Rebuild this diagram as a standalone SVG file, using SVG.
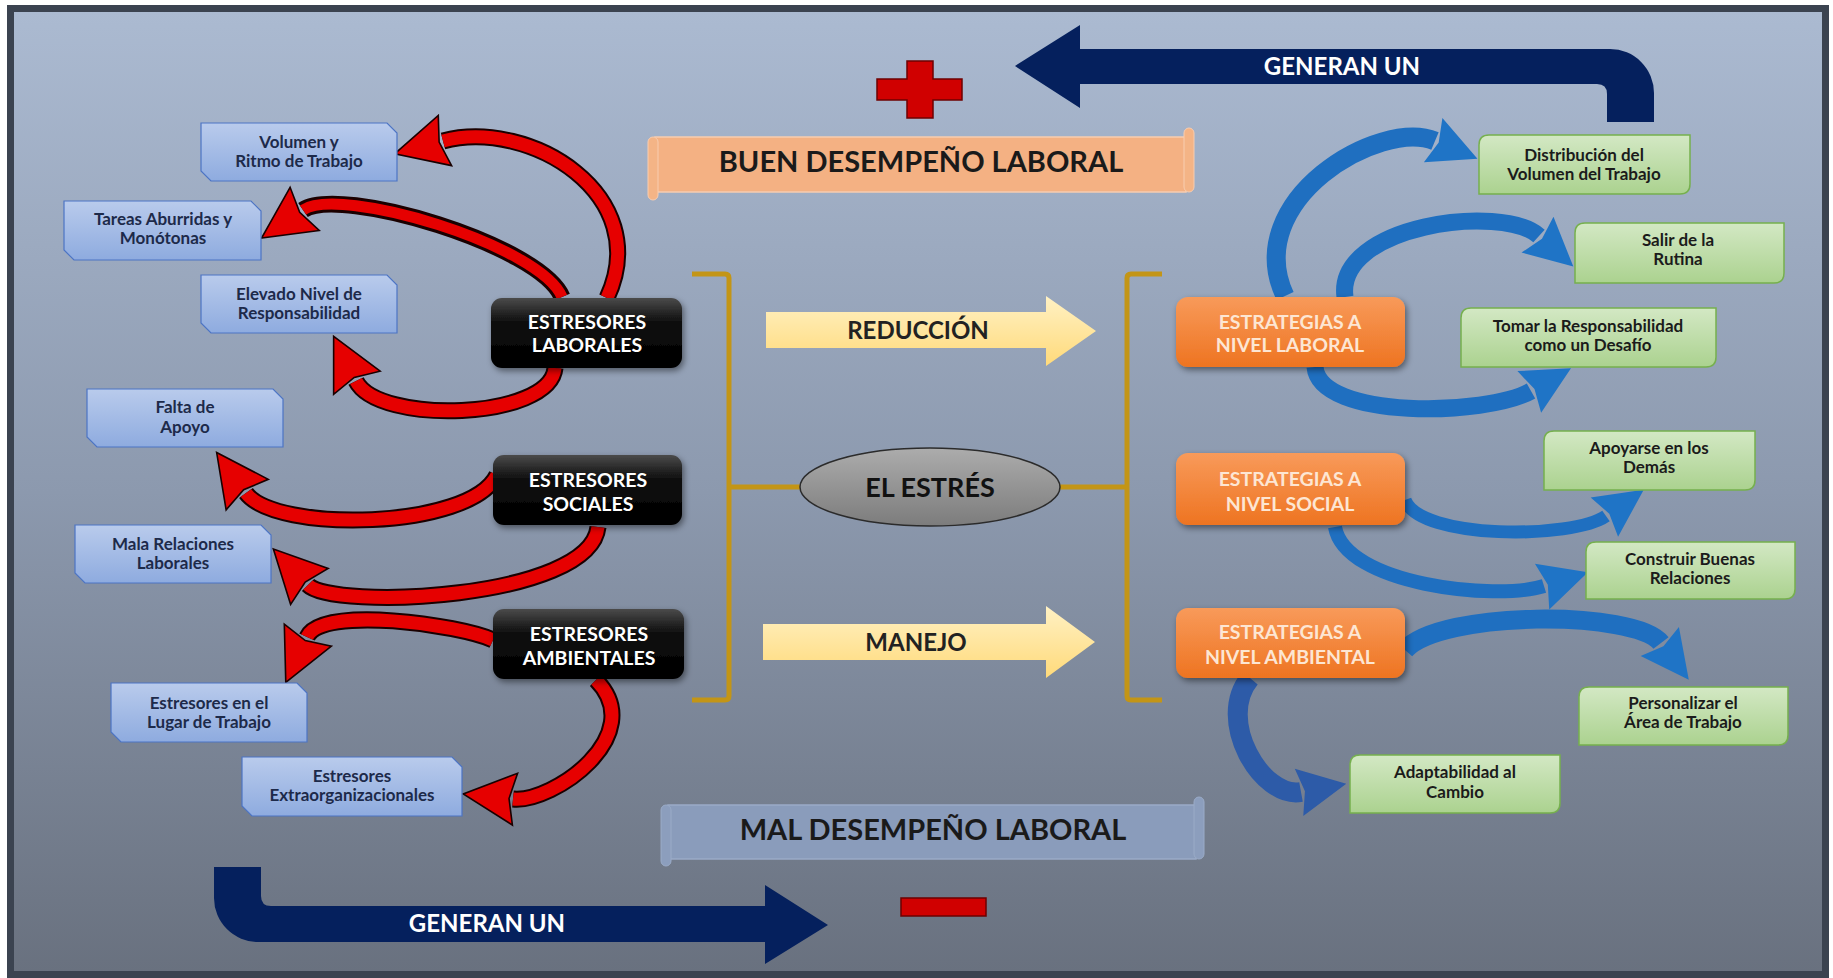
<svg xmlns="http://www.w3.org/2000/svg" width="1833" height="978" viewBox="0 0 1833 978">
  <defs>
    <linearGradient id="bg" x1="0" y1="0" x2="0" y2="1">
      <stop offset="0" stop-color="#abbad1"/>
      <stop offset="0.5" stop-color="#8c99ae"/>
      <stop offset="1" stop-color="#69717f"/>
    </linearGradient>
    <linearGradient id="gBlue" x1="0" y1="0" x2="0" y2="1">
      <stop offset="0" stop-color="#b9cbec"/>
      <stop offset="1" stop-color="#8eabdf"/>
    </linearGradient>
    <linearGradient id="gGreen" x1="0" y1="0" x2="0" y2="1">
      <stop offset="0" stop-color="#d3e8c4"/>
      <stop offset="1" stop-color="#abd28f"/>
    </linearGradient>
    <linearGradient id="gBlack" x1="0" y1="0" x2="0" y2="1">
      <stop offset="0" stop-color="#4a4a4a"/>
      <stop offset="0.35" stop-color="#0d0d0d"/>
      <stop offset="1" stop-color="#000000"/>
    </linearGradient>
    <linearGradient id="gOrange" x1="0" y1="0" x2="0" y2="1">
      <stop offset="0" stop-color="#f89a5a"/>
      <stop offset="1" stop-color="#ee7421"/>
    </linearGradient>
    <linearGradient id="gYellow" x1="0" y1="0" x2="0" y2="1">
      <stop offset="0" stop-color="#fff1c4"/>
      <stop offset="1" stop-color="#ffda7a"/>
    </linearGradient>
    <linearGradient id="gGray" x1="0" y1="0" x2="0" y2="1">
      <stop offset="0" stop-color="#acacac"/>
      <stop offset="1" stop-color="#7c7c7c"/>
    </linearGradient>
    <filter id="shadow" x="-10%" y="-10%" width="130%" height="140%">
      <feDropShadow dx="2" dy="3" stdDeviation="3" flood-color="#000" flood-opacity="0.45"/>
    </filter>
    <marker id="redHead" markerUnits="userSpaceOnUse" orient="auto" refX="0" refY="0" markerWidth="60" markerHeight="70" viewBox="-4 -35 60 70" overflow="visible">
      <path d="M-2,-26 L50,0 L-2,26 L4,0 Z" fill="#e60000" stroke="#1a0000" stroke-width="1.6" stroke-linejoin="miter"/>
    </marker>
    <marker id="blueHead" markerUnits="userSpaceOnUse" orient="auto" refX="0" refY="0" markerWidth="60" markerHeight="70" viewBox="-4 -35 60 70" overflow="visible">
      <path d="M-2,-24 L46,0 L-2,24 L4,0 Z" fill="#1f74c6"/>
    </marker>
    <marker id="blueHeadDark" markerUnits="userSpaceOnUse" orient="auto" refX="0" refY="0" markerWidth="60" markerHeight="70" viewBox="-4 -35 60 70" overflow="visible">
      <path d="M-2,-24 L46,0 L-2,24 L4,0 Z" fill="#2d5ba8"/>
    </marker>
    <style>
      text { font-family: "Lato", "Liberation Sans", sans-serif; font-weight: bold; text-anchor: middle; }
      .snip { fill: url(#gBlue); stroke: #4c74c4; stroke-width: 1.2; }
      .snipTxt { font-size: 17px; fill: #1d2a4a; }
      .leaf { fill: url(#gGreen); stroke: #76b04e; stroke-width: 1.5; }
      .leafTxt { font-size: 17px; fill: #1b1b1b; }
      .dark { fill: url(#gBlack); filter: url(#shadow); }
      .darkTxt { font-size: 19.5px; fill: #ffffff; }
      .orange { fill: url(#gOrange); filter: url(#shadow); }
      .orangeTxt { font-size: 19.5px; fill: #fde6d3; }
      .redOut { fill: none; stroke: #1a0000; stroke-width: 17; }
      .red { fill: none; stroke: #e60000; stroke-width: 13; marker-end: url(#redHead); }
      .blue { fill: none; stroke: #1f6fc0; stroke-width: 17; marker-end: url(#blueHead); }
      .blueDark { fill: none; stroke: #2d5ba8; stroke-width: 20; marker-end: url(#blueHeadDark); }
      .bracket { fill: none; stroke: #c39516; stroke-width: 5; stroke-linejoin: round; }
      .navy { fill: #05205d; }
      .navyTxt { font-size: 24px; fill: #ffffff; }
      .yellow { fill: url(#gYellow); }
      .yellowTxt { font-size: 24px; fill: #222222; }
      .sign { fill: #d00000; stroke: #6e0000; stroke-width: 1.5; }
      .banner { font-size: 29px; fill: #1a1a1a; }
    </style>
  </defs>

  <!-- frame and backdrop -->
  <rect x="0" y="0" width="1833" height="978" fill="#ffffff"/>
  <rect x="7" y="5" width="1822" height="973" fill="#3b4350"/>
  <rect x="14" y="12" width="1808" height="959" fill="url(#bg)"/>

  <!-- connectors: curved arrows, brackets, block arrows -->
  <g id="connectors">
    <!-- stressors: red curved arrows -->
    <path class="redOut" d="M607 298 C655 195, 530 118, 443 141"/>
    <path class="red" d="M607 298 C655 195, 530 118, 443 141"/>
    <path class="redOut" d="M562 297 C540 245, 340 185, 303 210"/>
    <path class="red" style="stroke-width:11" d="M562 297 C540 245, 340 185, 303 210"/>
    <path class="redOut" d="M555 368 C550 420, 378 425, 356 381"/>
    <path class="red" d="M555 368 C550 420, 378 425, 356 381"/>
    <path class="redOut" d="M497 475 C470 530, 275 533, 246 493"/>
    <path class="red" d="M497 475 C470 530, 275 533, 246 493"/>
    <path class="redOut" d="M598 527 C590 600, 332 610, 308 585"/>
    <path class="red" d="M598 527 C590 600, 332 610, 308 585"/>
    <path class="redOut" d="M493 640 C460 625, 322 605, 307 637"/>
    <path class="red" d="M493 640 C460 625, 322 605, 307 637"/>
    <path class="redOut" d="M596 680 C650 735, 553 803, 513 799"/>
    <path class="red" d="M596 680 C650 735, 553 803, 513 799"/>

    <!-- strategies: blue curved arrows -->
    <path class="blue" style="stroke-width:19" d="M1285 296 C1240 200, 1380 118, 1435 141"/>
    <path class="blue" d="M1345 297 C1335 225, 1502 203, 1539 236"/>
    <path class="blue" d="M1315 367 C1320 420, 1487 416, 1531 391"/>
    <path class="blue" style="stroke-width:13" d="M1405 500 C1420 540, 1573 539, 1606 516"/>
    <path class="blue" style="stroke-width:14" d="M1335 527 C1345 585, 1496 601, 1544 586"/>
    <path class="blue" style="stroke-width:19" d="M1405 650 C1440 610, 1636 610, 1661 643"/>
    <path class="blueDark" d="M1250 678 C1215 720, 1262 799, 1301 792"/>

    <!-- brackets around the central topic -->
    <path class="bracket" d="M692 274 H725 Q729 274 729 278 V696 Q729 700 725 700 H692"/>
    <path class="bracket" d="M729 487 H800"/>
    <path class="bracket" d="M1162 274 H1131 Q1127 274 1127 278 V696 Q1127 700 1131 700 H1162"/>
    <path class="bracket" d="M1060 487 H1127"/>

    <!-- block arrows -->
    <path class="yellow" d="M766 312 H1046 V296 L1096 331 L1046 366 V348 H766 Z"/>
    <text class="yellowTxt" x="918" y="339">REDUCCIÓN</text>
    <path class="yellow" d="M763 624 H1046 V606 L1095 642 L1046 678 V660 H763 Z"/>
    <text class="yellowTxt" x="916" y="651">MANEJO</text>

    <path class="navy" d="M1607 122 V94 Q1607 84 1597 84 H1080 V108 L1015 66 L1080 25 V49 H1610 A44 44 0 0 1 1654 93 V122 Z"/>
    <text class="navyTxt" x="1342" y="75">GENERAN UN</text>
    <path class="navy" d="M214 867 H261 V896 Q261 906 271 906 H765 V885 L828 925 L765 964 V942 H258 A44 44 0 0 1 214 898 Z"/>
    <text class="navyTxt" x="487" y="932">GENERAN UN</text>
  </g>

  <!-- plus and minus signs -->
  <g id="plus">
    <path class="sign" d="M907 61 H933 V79 H962 V100 H933 V118 H907 V100 H877 V79 H907 Z"/>
  </g>
  <g id="minus">
    <rect class="sign" x="901" y="898" width="85" height="18"/>
  </g>

  <!-- performance banners -->
  <g id="buen-desempeno">
    <rect x="655" y="137" width="531" height="55" fill="#f4b183" stroke="#f8cdb0" stroke-width="1.5"/>
    <rect x="648" y="137" width="10" height="63" rx="5" fill="#f4b486" stroke="#f8cdb0" stroke-width="1"/>
    <rect x="1184" y="128" width="10" height="64" rx="5" fill="#f4b486" stroke="#f8cdb0" stroke-width="1"/>
    <text class="banner" x="921" y="172">BUEN DESEMPEÑO LABORAL</text>
  </g>
  <g id="mal-desempeno">
    <rect x="668" y="805" width="528" height="54" fill="#8a9cbb" stroke="#9aabc7" stroke-width="1.5"/>
    <rect x="661" y="805" width="10" height="61" rx="5" fill="#8c9ebd" stroke="#9aabc7" stroke-width="1"/>
    <rect x="1194" y="797" width="10" height="62" rx="5" fill="#8c9ebd" stroke="#9aabc7" stroke-width="1"/>
    <text class="banner" x="933" y="840">MAL DESEMPEÑO LABORAL</text>
  </g>

  <!-- central topic -->
  <g id="el-estres">
    <ellipse cx="930" cy="487" rx="130" ry="39" fill="url(#gGray)" stroke="#2b2b2b" stroke-width="1.5"/>
    <text x="930" y="497" style="font-size:27px;fill:#111">EL ESTRÉS</text>
  </g>

  <!-- stressor categories -->
  <g id="estresores-laborales">
    <rect class="dark" x="491" y="298" width="191" height="70" rx="11"/>
    <text class="darkTxt" x="587" y="329">ESTRESORES</text>
    <text class="darkTxt" x="587" y="352">LABORALES</text>
  </g>
  <g id="estresores-sociales">
    <rect class="dark" x="493" y="455" width="189" height="70" rx="11"/>
    <text class="darkTxt" x="588" y="487">ESTRESORES</text>
    <text class="darkTxt" x="588" y="511">SOCIALES</text>
  </g>
  <g id="estresores-ambientales">
    <rect class="dark" x="493" y="609" width="191" height="70" rx="11"/>
    <text class="darkTxt" x="589" y="641">ESTRESORES</text>
    <text class="darkTxt" x="589" y="665">AMBIENTALES</text>
  </g>

  <!-- stressor details -->
  <g id="volumen-ritmo">
    <path class="snip" d="M201 123 H387 L397 133 V181 H211 L201 171 Z"/>
    <text class="snipTxt" x="299" y="148">Volumen y</text>
    <text class="snipTxt" x="299" y="167">Ritmo de Trabajo</text>
  </g>
  <g id="tareas-aburridas">
    <path class="snip" d="M64 201 H251 L261 211 V260 H74 L64 250 Z"/>
    <text class="snipTxt" x="163" y="225">Tareas Aburridas y</text>
    <text class="snipTxt" x="163" y="244">Monótonas</text>
  </g>
  <g id="elevado-nivel">
    <path class="snip" d="M201 275 H387 L397 285 V333 H211 L201 323 Z"/>
    <text class="snipTxt" x="299" y="300">Elevado Nivel de</text>
    <text class="snipTxt" x="299" y="319">Responsabilidad</text>
  </g>
  <g id="falta-apoyo">
    <path class="snip" d="M87 389 H273 L283 399 V447 H97 L87 437 Z"/>
    <text class="snipTxt" x="185" y="413">Falta de</text>
    <text class="snipTxt" x="185" y="433">Apoyo</text>
  </g>
  <g id="mala-relaciones">
    <path class="snip" d="M75 525 H261 L271 535 V583 H85 L75 573 Z"/>
    <text class="snipTxt" x="173" y="550">Mala Relaciones</text>
    <text class="snipTxt" x="173" y="569">Laborales</text>
  </g>
  <g id="lugar-trabajo">
    <path class="snip" d="M111 683 H297 L307 693 V742 H121 L111 732 Z"/>
    <text class="snipTxt" x="209" y="709">Estresores en el</text>
    <text class="snipTxt" x="209" y="728">Lugar de Trabajo</text>
  </g>
  <g id="extraorganizacionales">
    <path class="snip" d="M242 757 H452 L462 767 V816 H252 L242 806 Z"/>
    <text class="snipTxt" x="352" y="782">Estresores</text>
    <text class="snipTxt" x="352" y="801">Extraorganizacionales</text>
  </g>

  <!-- strategy categories -->
  <g id="estrategias-laboral">
    <rect class="orange" x="1176" y="297" width="229" height="70" rx="12"/>
    <text class="orangeTxt" x="1290" y="329">ESTRATEGIAS A</text>
    <text class="orangeTxt" x="1290" y="352">NIVEL LABORAL</text>
  </g>
  <g id="estrategias-social">
    <rect class="orange" x="1176" y="453" width="229" height="72" rx="12"/>
    <text class="orangeTxt" x="1290" y="486">ESTRATEGIAS A</text>
    <text class="orangeTxt" x="1290" y="511">NIVEL SOCIAL</text>
  </g>
  <g id="estrategias-ambiental">
    <rect class="orange" x="1176" y="608" width="229" height="70" rx="12"/>
    <text class="orangeTxt" x="1290" y="639">ESTRATEGIAS A</text>
    <text class="orangeTxt" x="1290" y="664">NIVEL AMBIENTAL</text>
  </g>

  <!-- strategy details -->
  <g id="distribucion-volumen">
    <path class="leaf" d="M1489 135 H1690 V184 Q1690 194 1680 194 H1479 V145 Q1479 135 1489 135 Z"/>
    <text class="leafTxt" x="1584" y="161">Distribución del</text>
    <text class="leafTxt" x="1584" y="180">Volumen del Trabajo</text>
  </g>
  <g id="salir-rutina">
    <path class="leaf" d="M1585 223 H1784 V273 Q1784 283 1774 283 H1575 V233 Q1575 223 1585 223 Z"/>
    <text class="leafTxt" x="1678" y="246">Salir de la</text>
    <text class="leafTxt" x="1678" y="265">Rutina</text>
  </g>
  <g id="tomar-responsabilidad">
    <path class="leaf" d="M1471 308 H1716 V357 Q1716 367 1706 367 H1461 V318 Q1461 308 1471 308 Z"/>
    <text class="leafTxt" x="1588" y="332">Tomar la Responsabilidad</text>
    <text class="leafTxt" x="1588" y="351">como un Desafío</text>
  </g>
  <g id="apoyarse-demas">
    <path class="leaf" d="M1554 431 H1755 V480 Q1755 490 1745 490 H1544 V441 Q1544 431 1554 431 Z"/>
    <text class="leafTxt" x="1649" y="454">Apoyarse en los</text>
    <text class="leafTxt" x="1649" y="473">Demás</text>
  </g>
  <g id="construir-relaciones">
    <path class="leaf" d="M1596 542 H1795 V589 Q1795 599 1785 599 H1586 V552 Q1586 542 1596 542 Z"/>
    <text class="leafTxt" x="1690" y="565">Construir Buenas</text>
    <text class="leafTxt" x="1690" y="584">Relaciones</text>
  </g>
  <g id="personalizar-area">
    <path class="leaf" d="M1589 687 H1788 V735 Q1788 745 1778 745 H1579 V697 Q1579 687 1589 687 Z"/>
    <text class="leafTxt" x="1683" y="709">Personalizar el</text>
    <text class="leafTxt" x="1683" y="728">Área de Trabajo</text>
  </g>
  <g id="adaptabilidad-cambio">
    <path class="leaf" d="M1360 755 H1560 V803 Q1560 813 1550 813 H1350 V765 Q1350 755 1360 755 Z"/>
    <text class="leafTxt" x="1455" y="778">Adaptabilidad al</text>
    <text class="leafTxt" x="1455" y="798">Cambio</text>
  </g>
</svg>
